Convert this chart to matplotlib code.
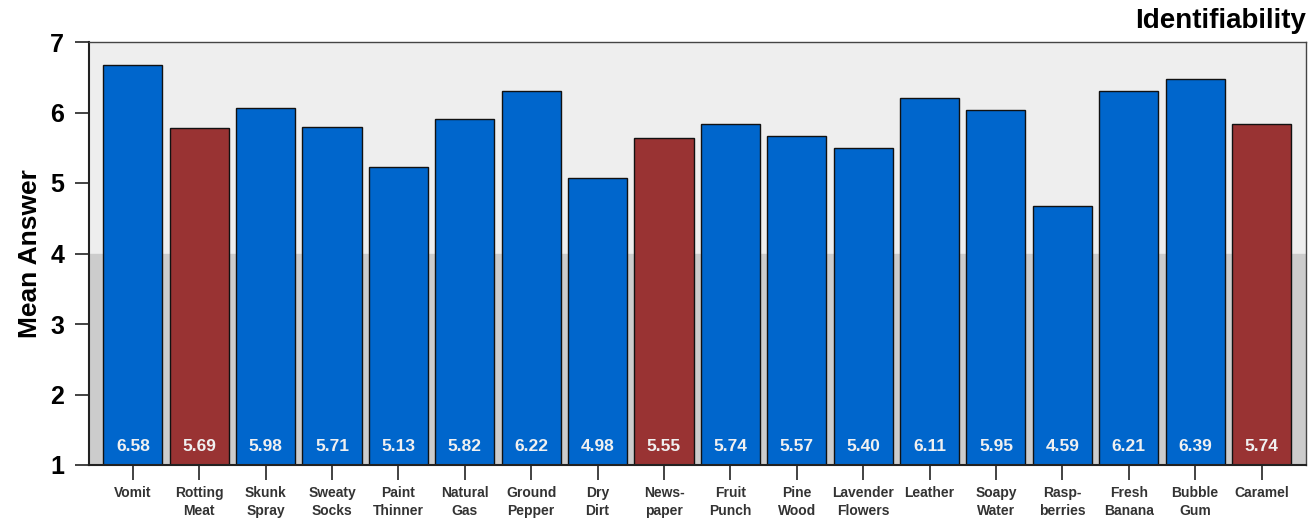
import matplotlib
matplotlib.use("Agg")
import matplotlib.pyplot as plt

plt.rcParams['font.family'] = ['Liberation Sans', 'DejaVu Sans']

categories = ["Vomit", "Rotting\nMeat", "Skunk\nSpray", "Sweaty\nSocks", "Paint\nThinner",
              "Natural\nGas", "Ground\nPepper", "Dry\nDirt", "News-\npaper", "Fruit\nPunch",
              "Pine\nWood", "Lavender\nFlowers", "Leather", "Soapy\nWater", "Rasp-\nberries",
              "Fresh\nBanana", "Bubble\nGum", "Caramel"]
values = [6.58, 5.69, 5.98, 5.71, 5.13, 5.82, 6.22, 4.98, 5.55, 5.74,
          5.57, 5.40, 6.11, 5.95, 4.59, 6.21, 6.39, 5.74]
groups = ["b", "r", "b", "b", "b", "b", "b", "b", "r", "b",
          "b", "b", "b", "b", "b", "b", "b", "r"]
yticks = [1, 2, 3, 4, 5, 6, 7]

colors = {"b": "#0066cc", "r": "#993333"}
bar_offset = 0.09  # bars in the reference sit slightly above their labels

fig = plt.figure(figsize=(13.15, 5.19), dpi=100)
ax = fig.add_axes([89/1315, 1 - 465/519, (1306-89)/1315, (465-42)/519])

ax.set_xlim(-0.66, len(categories) - 1 + 0.67)
ax.set_ylim(1, 7)
ax.axhspan(4, 7, color="#eeeeee", zorder=0)
ax.axhspan(1, 4, color="#cccccc", zorder=0)

x = list(range(len(categories)))
heights = [v - 1 + bar_offset for v in values]
ax.bar(x, heights, bottom=1, width=0.89, color=[colors[g] for g in groups],
       edgecolor="#111111", linewidth=1.0, zorder=2)

for xi, v in zip(x, values):
    ax.text(xi, 1.26, f"{v:.2f}", ha="center", va="center", color="#f0f0f0",
            fontsize=12.5, fontweight="bold", zorder=3)

ax.set_yticks(yticks)
ax.set_yticklabels([str(t) for t in yticks], fontsize=18, fontweight="bold")
ax.set_xticks(x)
ax.set_xticklabels(categories, fontsize=10, fontweight="bold", color="#333333", linespacing=1.35)
ax.tick_params(axis="y", direction="out", length=10, width=1.2, color="#222222", pad=8)
ax.tick_params(axis="x", direction="out", length=11, width=1.2, color="#222222", pad=4)

for s in ["left", "bottom"]:
    ax.spines[s].set_color("#222222")
    ax.spines[s].set_linewidth(1.5)
for s in ["top", "right"]:
    ax.spines[s].set_color("#444444")
    ax.spines[s].set_linewidth(1.0)

ax.set_ylabel("Mean Answer", fontsize=19, fontweight="bold", labelpad=6)
fig.text(1306/1315, 1 - 21/519, "Identifiability", ha="right", va="center",
         fontsize=20, fontweight="bold")

fig.savefig("out.png", dpi=100)
